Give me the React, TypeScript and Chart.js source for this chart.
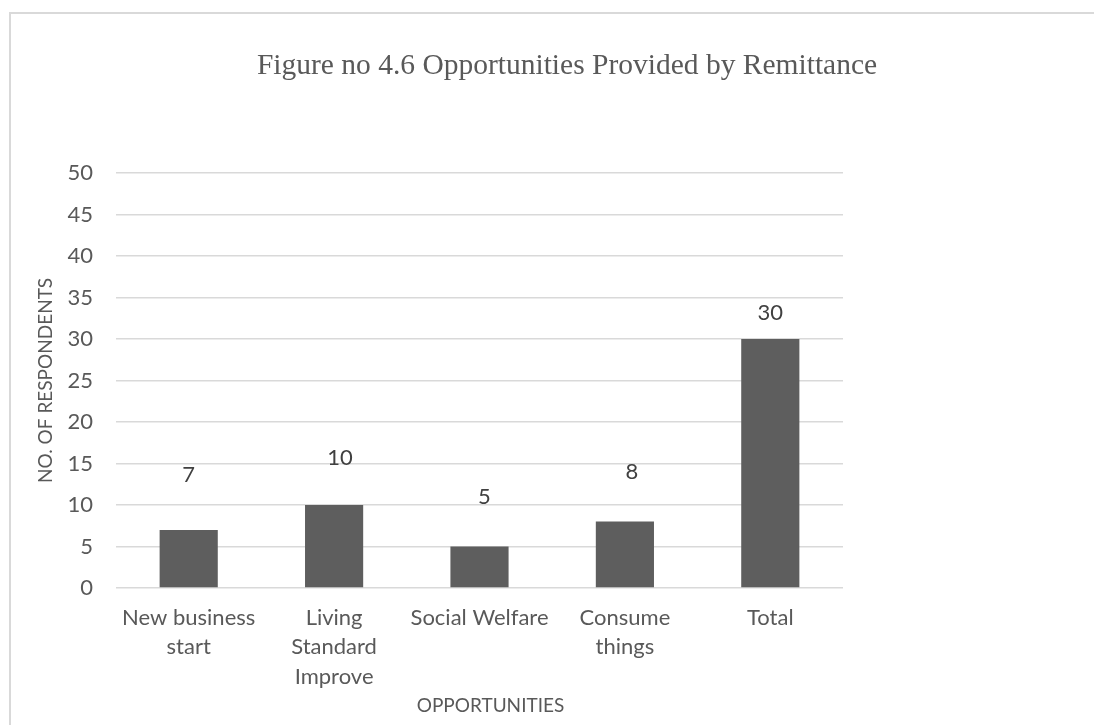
import React, { useEffect, useRef } from "react";
import { Chart, registerables } from "chart.js";

Chart.register(...registerables);

// ---- data ----
const categories: string[][] = [
  ["New business", "start"],
  ["Living", "Standard", "Improve"],
  ["Social Welfare"],
  ["Consume", "things"],
  ["Total"],
];
const respondents: number[] = [7, 10, 5, 8, 30];
const yMin = 0;
const yMax = 50;
const yStep = 5;
const chartTitle = "Figure no 4.6 Opportunities Provided by Remittance";
const xAxisTitle = "OPPORTUNITIES";
const yAxisTitle = "NO. OF RESPONDENTS";

// ---- style ----
const SANS = "Lato, 'Open Sans', sans-serif";
const SERIF = "'Liberation Serif', 'Times New Roman', serif";
const TEXT = "#595959";
const LABEL = "#404040";
const GRID = "#d9d9d9";
const BAR = "#5e5e5e";
// value-label nudges (px) relative to each bar's top, as placed in the original
const labelNudge: [number, number][] = [
  [0, -55],
  [6, -47],
  [5, -50],
  [7, -50],
  [0, -26],
];
// the x-axis title sits slightly right of the plot centre in the original
const xTitleShift = 11;

const W = 1134;
const H = 725;

const valueLabels = {
  id: "valueLabels",
  afterDatasetsDraw(chart: any) {
    const ctx = chart.ctx;
    const meta = chart.getDatasetMeta(0);
    ctx.save();
    ctx.font = `22px ${SANS}`;
    ctx.fillStyle = LABEL;
    ctx.textAlign = "center";
    ctx.textBaseline = "middle";
    meta.data.forEach((el: any, i: number) => {
      const [dx, dy] = labelNudge[i] || [0, -20];
      ctx.fillText(String(respondents[i]), el.x + dx, el.y + dy);
    });
    // x-axis title
    const area = chart.chartArea;
    const xs = chart.scales.x;
    ctx.font = `19px ${SANS}`;
    ctx.fillStyle = TEXT;
    ctx.fillText(xAxisTitle, (area.left + area.right) / 2 + xTitleShift, xs.bottom - 7.5 - 11.4);
    ctx.restore();
  },
};

export default function App() {
  const ref = useRef<HTMLCanvasElement | null>(null);

  useEffect(() => {
    if (!ref.current) return;
    const chart = new Chart(ref.current, {
      type: "bar",
      data: {
        labels: categories,
        datasets: [
          {
            data: respondents,
            backgroundColor: BAR,
            borderWidth: 0,
            categoryPercentage: 1,
            barPercentage: 0.4,
          },
        ],
      },
      options: {
        animation: false,
        responsive: false,
        devicePixelRatio: 1,
        layout: { padding: 0 },
        plugins: {
          legend: { display: false },
          tooltip: { enabled: false },
          title: {
            display: true,
            text: chartTitle,
            color: TEXT,
            font: { family: SERIF, size: 29.5, weight: "normal", lineHeight: 1.2 },
            padding: { top: 48.5, bottom: 89 },
          },
        },
        scales: {
          x: {
            grid: { display: false, drawTicks: false },
            border: { display: false },
            ticks: {
              color: TEXT,
              font: { family: SANS, size: 22, lineHeight: 1.34 },
              padding: 15,
              maxRotation: 0,
              autoSkip: false,
            },
            title: { display: false },
            afterFit(scale: any) {
              scale.height = H - 588;
            },
          },
          y: {
            min: yMin,
            max: yMax,
            grid: { color: GRID, lineWidth: 1.5, drawTicks: false },
            border: { display: false },
            ticks: {
              stepSize: yStep,
              color: TEXT,
              font: { family: SANS, size: 22 },
              padding: 23,
            },
            title: {
              display: true,
              text: yAxisTitle,
              color: TEXT,
              font: { family: SANS, size: 19, lineHeight: 1.2 },
              padding: { top: 34, bottom: 0 },
            },
            afterFit(scale: any) {
              scale.width = 116;
            },
          },
          // empty spacer on the right, matching the wide right margin of the original
          spacer: {
            type: "linear",
            position: "right",
            display: true,
            grid: { display: false, drawTicks: false },
            border: { display: false },
            ticks: { display: false },
            afterFit(scale: any) {
              scale.width = W - 843;
            },
          },
        },
      },
      plugins: [valueLabels],
    });
    return () => chart.destroy();
  }, []);

  return (
    <div
      style={{
        position: "fixed",
        left: 0,
        top: 0,
        width: 1094,
        height: 725,
        overflow: "hidden",
        background: "#fff",
      }}
    >
      <canvas
        ref={ref}
        width={W}
        height={H}
        style={{ position: "absolute", left: 0, top: 0, width: W, height: H }}
      />
      <div
        style={{
          position: "absolute",
          left: 9,
          top: 12,
          width: 1200,
          height: 800,
          borderLeft: `2px solid ${GRID}`,
          borderTop: `2px solid ${GRID}`,
          pointerEvents: "none",
        }}
      />
    </div>
  );
}
